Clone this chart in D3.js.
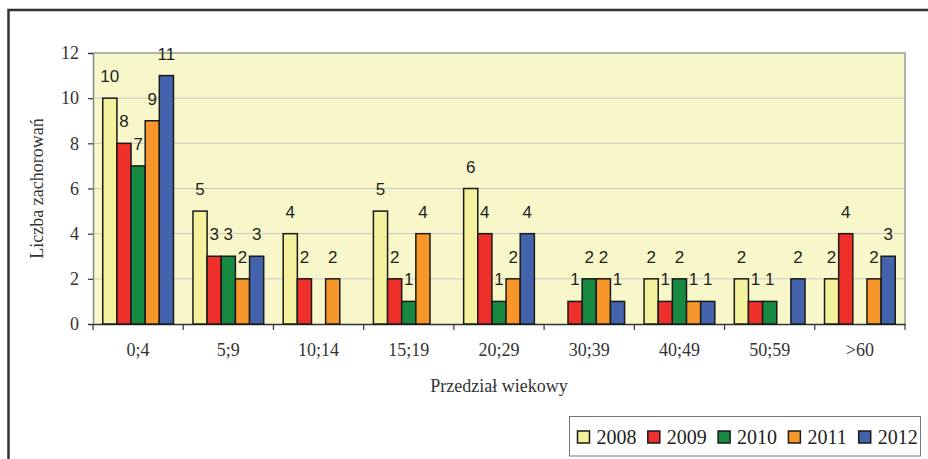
<!DOCTYPE html>
<html>
<head>
<meta charset="utf-8">
<script src="https://cdn.jsdelivr.net/npm/d3@7"></script>
<style>
  html, body { margin: 0; padding: 0; background: #ffffff; }
  svg { display: block; }
</style>
</head>
<body>
<svg id="chart" width="928" height="459"></svg>
<script>
// Age groups and yearly case counts
const categories = ["0;4", "5;9", "10;14", "15;19", "20;29", "30;39", "40;49", "50;59", ">60"];
const years = ["2008", "2009", "2010", "2011", "2012"];
const cases2008 = [10, 5, 4, 5, 6, 0, 2, 2, 2];
const cases2009 = [8, 3, 2, 2, 4, 1, 1, 1, 4];
const cases2010 = [7, 3, 0, 1, 1, 2, 2, 1, 0];
const cases2011 = [9, 2, 2, 4, 2, 2, 1, 0, 2];
const cases2012 = [11, 3, 0, 0, 4, 1, 1, 2, 3];
const yTicks = [0, 2, 4, 6, 8, 10, 12];
const colors = ["#f4f29c", "#ee2f2a", "#178a42", "#f7962a", "#4363ac"];

const seriesValues = [cases2008, cases2009, cases2010, cases2011, cases2012];

const svg = d3.select("#chart");
const serif = "'Liberation Serif', 'Times New Roman', serif";
const sans = "'Liberation Sans', Arial, sans-serif";

// Outer frame (continues past the right and bottom edges)
svg.append("rect")
  .attr("x", 8.5).attr("y", 10)
  .attr("width", 940).attr("height", 470)
  .attr("fill", "none").attr("stroke", "#333").attr("stroke-width", 2.5);

const plot = { left: 93, top: 53, right: 905, bottom: 324 };

const x0 = d3.scaleBand()
  .domain(categories)
  .range([plot.left, plot.right])
  .paddingInner(0.216).paddingOuter(0.108);
const x1 = d3.scaleBand()
  .domain(years)
  .range([0, x0.bandwidth()]);
const y = d3.scaleLinear().domain([0, 12]).range([plot.bottom, plot.top]);

// Plot background
svg.append("rect")
  .attr("x", plot.left).attr("y", plot.top)
  .attr("width", plot.right - plot.left).attr("height", plot.bottom - plot.top)
  .attr("fill", "#f8f7c9");

// Horizontal grid
svg.append("g")
  .selectAll("line")
  .data(yTicks.filter(d => d > 0 && d < 12))
  .join("line")
  .attr("x1", plot.left).attr("x2", plot.right)
  .attr("y1", d => y(d)).attr("y2", d => y(d))
  .attr("stroke", "#c9c9c4").attr("stroke-width", 1);

// Plot border (top and right)
svg.append("path")
  .attr("d", `M${plot.left},${plot.top}H${plot.right}V${plot.bottom}`)
  .attr("fill", "none").attr("stroke", "#9a9a9a").attr("stroke-width", 1.5);

// Y axis
const yAxis = svg.append("g")
  .attr("transform", `translate(${plot.left},0)`)
  .call(d3.axisLeft(y).tickValues(yTicks).tickSize(5).tickPadding(9));
yAxis.select(".domain").attr("stroke", "#888").attr("stroke-width", 1.5);
yAxis.selectAll(".tick line").attr("stroke", "#333").attr("stroke-width", 1.2);
yAxis.selectAll(".tick text")
  .attr("font-family", serif).attr("font-size", 18).attr("fill", "#333");

// X axis with ticks on the category boundaries
const xAxis = svg.append("g")
  .attr("transform", `translate(0,${plot.bottom})`)
  .call(d3.axisBottom(x0).tickSize(0).tickPadding(19));
xAxis.select(".domain").attr("stroke", "#333").attr("stroke-width", 1.5);
xAxis.selectAll(".tick text")
  .attr("font-family", serif).attr("font-size", 18).attr("fill", "#333");
const step = x0.step();
svg.append("g")
  .selectAll("line")
  .data(d3.range(categories.length + 1))
  .join("line")
  .attr("x1", i => plot.left + i * step).attr("x2", i => plot.left + i * step)
  .attr("y1", plot.bottom).attr("y2", plot.bottom + 6)
  .attr("stroke", "#333").attr("stroke-width", 1.2);

// Bars
const flat = [];
categories.forEach((c, ci) => {
  years.forEach((yr, si) => {
    flat.push({ cat: c, year: yr, si, value: seriesValues[si][ci] });
  });
});
const nonZero = flat.filter(d => d.value > 0);

svg.append("g")
  .selectAll("rect")
  .data(nonZero)
  .join("rect")
  .attr("x", d => x0(d.cat) + x1(d.year))
  .attr("y", d => y(d.value))
  .attr("width", x1.bandwidth())
  .attr("height", d => y(0) - y(d.value))
  .attr("fill", d => colors[d.si])
  .attr("stroke", "#1a1a1a").attr("stroke-width", 1.5);

// Value labels
svg.append("g")
  .selectAll("text")
  .data(nonZero)
  .join("text")
  .attr("x", d => x0(d.cat) + x1(d.year) + x1.bandwidth() / 2)
  .attr("y", d => y(d.value) - 16)
  .attr("text-anchor", "middle")
  .attr("font-family", sans).attr("font-size", 17).attr("fill", "#231f20")
  .text(d => d.value);

// Axis titles
svg.append("text")
  .attr("x", (plot.left + plot.right) / 2).attr("y", 392)
  .attr("text-anchor", "middle")
  .attr("font-family", serif).attr("font-size", 18).attr("fill", "#333")
  .text("Przedział wiekowy");
svg.append("text")
  .attr("transform", `translate(43,${(plot.top + plot.bottom) / 2}) rotate(-90)`)
  .attr("text-anchor", "middle")
  .attr("font-family", serif).attr("font-size", 18).attr("fill", "#333")
  .text("Liczba zachorowań");

// Legend
const legend = svg.append("g");
legend.append("rect")
  .attr("x", 569.5).attr("y", 416.5).attr("width", 351).attr("height", 39.5)
  .attr("fill", "#fff").attr("stroke", "#777").attr("stroke-width", 1);
const item = legend.selectAll("g.item")
  .data(years)
  .join("g")
  .attr("class", "item")
  .attr("transform", (d, i) => `translate(${577.5 + i * 70.3},431)`);
item.append("rect")
  .attr("width", 12).attr("height", 12)
  .attr("fill", (d, i) => colors[i])
  .attr("stroke", "#1a1a1a").attr("stroke-width", 1.5);
item.append("text")
  .attr("x", 19).attr("y", 12.5)
  .attr("font-family", serif).attr("font-size", 20).attr("fill", "#222")
  .text(d => d);
</script>
</body>
</html>
